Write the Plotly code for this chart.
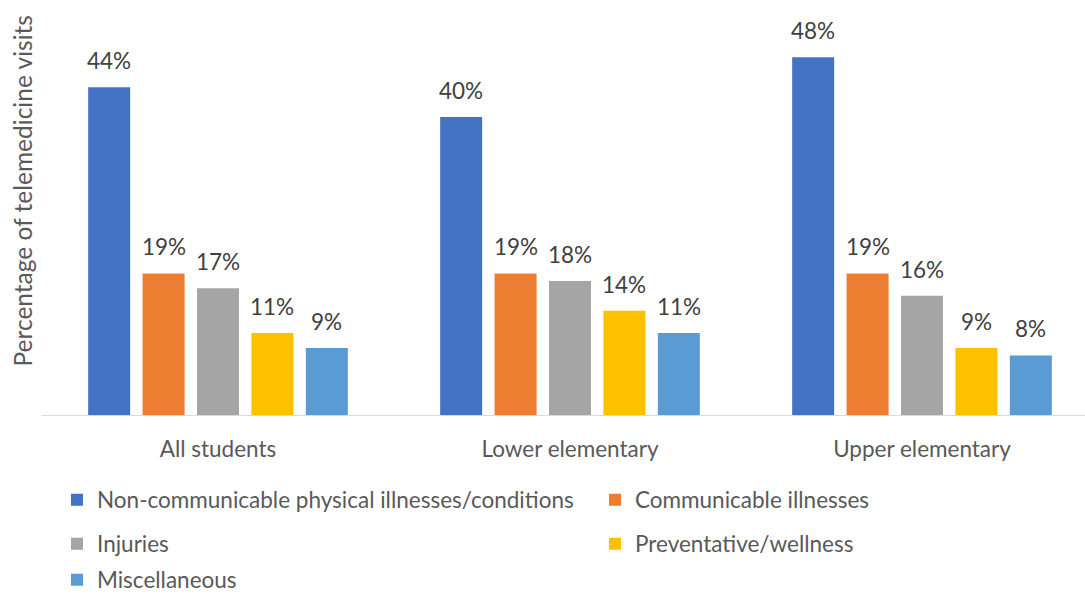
import plotly.graph_objects as go

# Telemedicine visit reasons by student group
groups = ["All students", "Lower elementary", "Upper elementary"]
series_names = [
    "Non-communicable physical illnesses/conditions",
    "Communicable illnesses",
    "Injuries",
    "Preventative/wellness",
    "Miscellaneous",
]
noncommunicable = [44, 40, 48]
communicable = [19, 19, 19]
injuries = [17, 18, 16]
preventative = [11, 14, 9]
miscellaneous = [9, 11, 8]
series_values = [noncommunicable, communicable, injuries, preventative, miscellaneous]
colors = ["#4472C4", "#ED7D31", "#A5A5A5", "#FFC000", "#5B9BD5"]

FONT = "Lato"
FS = 22.5
LABEL_COLOR = "#404040"
TICK_COLOR = "#595959"

BARGAP = 0.227
BARGROUPGAP = 0.228
n = len(series_names)

# plot area in pixels
PL, PW, PT, PH, H = 42, 1043, 0, 415, 596

# each series gets its own legend so the rows/columns can be placed freely
col_x = [(57 - PL) / PW, (595 - PL) / PW]
row_y = [(PH - 500) / PH, (PH - 544) / PH, (PH - 580) / PH]
legend_pos = [(col_x[0], 0), (col_x[1], 0),
              (col_x[0], 1), (col_x[1], 1),
              (col_x[0], 2)]

fig = go.Figure()
for i, (name, vals, col) in enumerate(zip(series_names, series_values, colors)):
    lg = "legend" if i == 0 else f"legend{i + 1}"
    fig.add_trace(go.Bar(
        name=name, x=groups, y=vals, marker_color=col,
        marker_line_width=0, legend=lg,
    ))

# value labels sitting above each bar
slot = (1 - BARGAP) / n
annotations = []
for i, vals in enumerate(series_values):
    off = -(1 - BARGAP) / 2 + slot * (i + 0.5)
    for gi, v in enumerate(vals):
        annotations.append(dict(
            x=gi + off, y=v, xref="x", yref="y", text=f"{v}%",
            showarrow=False, yanchor="bottom", yshift=11,
            font=dict(family=FONT, size=FS, color=LABEL_COLOR),
        ))

# y-axis title
annotations.append(dict(
    x=(22 - PL) / PW, y=(PT + PH - 191.5) / PH, xref="paper", yref="paper",
    text="Percentage of telemedicine visits", textangle=-90, showarrow=False,
    xanchor="center", yanchor="middle",
    font=dict(family=FONT, size=24.5, color=TICK_COLOR),
))

layout_legends = {}
for i, (lx, r) in enumerate(legend_pos):
    key = "legend" if i == 0 else f"legend{i + 1}"
    layout_legends[key] = dict(
        x=lx, y=row_y[r], xanchor="left", yanchor="middle",
        orientation="h", bgcolor="rgba(0,0,0,0)",
        font=dict(family=FONT, size=FS, color=TICK_COLOR),
    )

fig.update_layout(
    width=1085, height=H,
    margin=dict(l=PL, r=0, t=PT, b=H - PH, autoexpand=False),
    paper_bgcolor="white", plot_bgcolor="white",
    barmode="group", bargap=BARGAP, bargroupgap=BARGROUPGAP,
    showlegend=True,
    annotations=annotations,
    font=dict(family=FONT, size=FS, color=TICK_COLOR),
    **layout_legends,
)
fig.update_xaxes(
    range=[-0.5, -0.5 + PW / 352], showline=True, linecolor="#D9D9D9", linewidth=1,
    showgrid=False, zeroline=False, ticks="", ticklabelstandoff=14,
    tickfont=dict(family=FONT, size=FS, color=TICK_COLOR),
)
fig.update_yaxes(
    range=[0, 55.7], visible=False, showgrid=False, zeroline=False,
)

fig.write_html("out.html")
